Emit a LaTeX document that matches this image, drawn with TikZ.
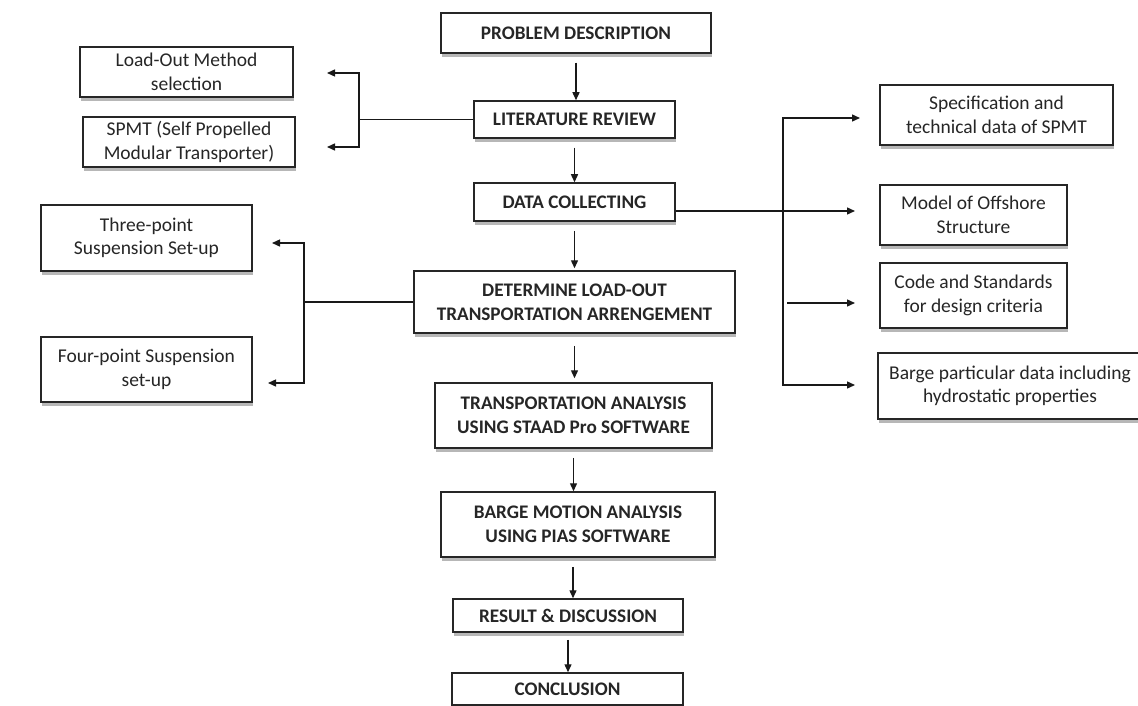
\documentclass[tikz,border=0pt]{standalone}
\usepackage{fontspec}
\setmainfont{Carlito}
\usetikzlibrary{arrows.meta,shadows}
\begin{document}
\begin{tikzpicture}[x=1pt,y=-1pt,
  box/.style={draw=black!85,line width=1.5pt,fill=white,inner sep=0pt,align=center,
    text=black!85,font=\fontsize{19.5}{23.5}\selectfont,
    drop shadow={shadow xshift=1pt,shadow yshift=-4pt,fill=black!40,opacity=0.7}},
  mainbox/.style={box,font=\fontsize{19.2}{24}\selectfont\bfseries},
  arr/.style={line width=1.4pt,draw=black!90,-{Triangle[length=8pt,width=7pt]}},
  ln/.style={line width=1.4pt,draw=black!90}]
\useasboundingbox (0,0) rectangle (1138,706);
\fill[white] (0,0) rectangle (1138,706);
% main column
\node[mainbox,minimum width=270,minimum height=40] (prob) at (576,33) {PROBLEM DESCRIPTION};
\node[mainbox,minimum width=201,minimum height=37] (lit) at (574.5,119.5) {LITERATURE REVIEW};
\node[mainbox,minimum width=201,minimum height=38] (data) at (574.5,202) {DATA COLLECTING};
\node[mainbox,minimum width=321,minimum height=62] (det) at (574.5,302) {DETERMINE LOAD-OUT\\TRANSPORTATION ARRENGEMENT};
\node[mainbox,minimum width=277,minimum height=65] (trans) at (573.5,415.5) {TRANSPORTATION ANALYSIS\\USING STAAD Pro SOFTWARE};
\node[mainbox,minimum width=274,minimum height=65] (barge) at (578,524.5) {BARGE MOTION ANALYSIS\\USING PIAS SOFTWARE};
\node[mainbox,minimum width=230,minimum height=33] (res) at (568,615.5) {RESULT \& DISCUSSION};
\node[mainbox,minimum width=231,minimum height=32] (conc) at (567.5,689) {CONCLUSION};
% left boxes
\node[box,minimum width=213,minimum height=50] (load) at (186.5,72) {Load-Out Method\\selection};
\node[box,minimum width=212,minimum height=50] (spmt) at (189,142) {SPMT (Self Propelled\\Modular Transporter)};
\node[box,minimum width=211,minimum height=66] (three) at (146.5,238) {Three-point\\Suspension Set-up};
\node[box,minimum width=211,minimum height=65] (four) at (146.5,369.5) {Four-point Suspension\\set-up};
% right boxes
\node[box,minimum width=233,minimum height=60] (spec) at (996.5,115) {Specification and\\technical data of SPMT};
\node[box,minimum width=187,minimum height=60] (model) at (973.5,215) {Model of Offshore\\Structure};
\node[box,minimum width=187,minimum height=65] (code) at (973.5,295.5) {Code and Standards\\for design criteria};
\node[box,minimum width=272,minimum height=66] (bpd) at (1014,386) {\hspace*{-8pt}Barge particular data including\\\hspace*{-8pt}hydrostatic properties};
% main arrows
\draw[arr] ([yshift=-9pt]prob.south) -- (prob.south |- lit.north);
\draw[arr] ([yshift=-9pt]lit.south) -- (lit.south |- data.north);
\draw[arr] ([yshift=-9pt]data.south) -- ([yshift=2pt]data.south |- det.north);
\draw[arr] ([yshift=-12pt]det.south) -- ([yshift=4pt]det.south |- trans.north);
\draw[arr] ([yshift=-9pt]trans.south) -- (trans.south |- barge.north);
\draw[arr] ([xshift=-5pt,yshift=-9pt]barge.south) -- ([xshift=-5pt]barge.south |- res.north);
\draw[arr] ([yshift=-7pt]res.south) -- (res.south |- conc.north);
% literature bracket
\coordinate (lj) at (359,119.5);
\coordinate (lt) at (327,73);
\coordinate (lb) at (327,147);
\draw[ln] (lit.west) -- (lj);
\draw[arr] (lj) |- (lt);
\draw[arr] (lj) |- (lb);
% determine bracket
\coordinate (dj) at (304,302);
\coordinate (dt) at (272,243);
\coordinate (db) at (268,383);
\draw[ln] (det.west) -- (dj);
\draw[arr] (dj) |- (dt);
\draw[arr] (dj) |- (db);
% data collecting branches
\coordinate (rj) at (783,211);
\coordinate (r1) at (860,118);
\coordinate (r2) at (855,211);
\coordinate (r3s) at (787,303);
\coordinate (r3) at (855,303);
\coordinate (r4) at (855,385);
\draw[arr] ([yshift=-9pt]data.east) -- (r2);
\draw[arr] (rj) |- (r1);
\draw[arr] (rj) |- (r4);
\draw[arr] (r3s) -- (r3);
\end{tikzpicture}
\end{document}
